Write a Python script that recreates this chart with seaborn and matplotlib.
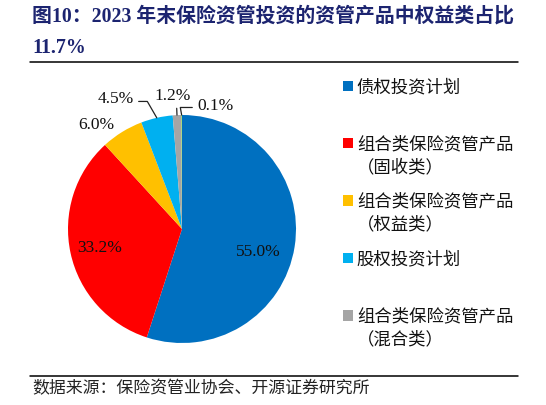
import matplotlib
matplotlib.use('Agg')
import matplotlib.pyplot as plt
import seaborn as sns
import numpy as np
from matplotlib.lines import Line2D

# data
categories = ['债权投资计划', '组合类保险资管产品', '组合类保险资管产品',
              '股权投资计划', '组合类保险资管产品', '其他']
sub_labels = ['', '（固收类）', '（权益类）', '', '（混合类）', '']
shares = [55.0, 33.2, 6.0, 4.5, 1.2, 0.1]
pct_labels = ['55.0%', '33.2%', '6.0%', '4.5%', '1.2%', '0.1%']

colors = ['#0070C0', '#FF0000', '#FFC000', '#00B0F0', '#A5A5A5', '#92D050']
# label placement in pie units (offset from centre)
label_pos = [(0.67, -0.20), (-0.72, -0.17), (-0.75, 0.91),
             (-0.58, 1.14), (-0.08, 1.17), (0.29, 1.08)]

sns.set_theme(style='white')
cjk = ['Noto Sans CJK SC', 'DejaVu Sans']
serif = ['Liberation Serif', 'Noto Sans CJK SC']
plt.rcParams['font.family'] = cjk

W, H = 546, 405
fig = plt.figure(figsize=(W / 100, H / 100), dpi=100)
fig.patch.set_facecolor('white')

cx, cy, r = 182, 229, 114
ax = fig.add_axes([(cx - r) / W, (H - cy - r) / H, 2 * r / W, 2 * r / H])
wedges, _ = ax.pie(shares, colors=sns.color_palette(colors), startangle=90,
                   counterclock=False, radius=1,
                   wedgeprops=dict(linewidth=0))
ax.set_xlim(-1, 1)
ax.set_ylim(-1, 1)
ax.set_aspect('equal')
ax.axis('off')

cum = np.cumsum([0] + shares[:-1])
for i, (txt, (lx, ly)) in enumerate(zip(pct_labels, label_pos)):
    mid = (cum[i] + shares[i] / 2) / 100 * 2 * np.pi
    px, py = np.sin(mid), np.cos(mid)
    kw = dict(fontsize=12.5, family=serif, color='#111111', ha='center', va='center')
    if i == 3:
        ax.annotate(txt, xy=(px, py), xytext=(lx, ly),
                    arrowprops=dict(arrowstyle='-', color='#222222', lw=0.9,
                                    relpos=(1.0, 0.35),
                                    connectionstyle='angle,angleA=0,angleB=120,rad=0',
                                    shrinkA=1, shrinkB=0), **kw)
    elif i == 4:
        ax.annotate(txt, xy=(px, py), xytext=(lx, ly),
                    arrowprops=dict(arrowstyle='-', color='#222222', lw=0.9,
                                    relpos=(0.6, 0.0), shrinkA=1, shrinkB=0), **kw)
    elif i == 5:
        ax.annotate(txt, xy=(px, py), xytext=(lx, ly),
                    arrowprops=dict(arrowstyle='-', color='#222222', lw=0.9,
                                    relpos=(0.0, 0.4),
                                    connectionstyle='angle,angleA=180,angleB=100,rad=0',
                                    shrinkA=1, shrinkB=0), **kw)
    else:
        ax.text(lx, ly, txt, **kw)

# legend (first five categories)
leg = fig.legend(wedges[:5], categories[:5], loc='upper left',
                 bbox_to_anchor=(343 / W, 1 - 78 / H), frameon=False,
                 fontsize=12.5, handlelength=0.55, handleheight=0.55,
                 handletextpad=0.25, labelspacing=2.27, borderpad=0,
                 borderaxespad=0)
for t in leg.get_texts():
    t.set_color('#111111')

fig.canvas.draw()
for t, sub in zip(leg.get_texts(), sub_labels[:5]):
    if not sub:
        continue
    bb = t.get_window_extent()
    fig.text(bb.x0 / W, (bb.y0 + bb.y1) / 2 / H - 23 / H, sub,
             fontsize=12.5, color='#111111', va='center', ha='left')

# title
title_color = '#1C2470'
fig.text(32 / W, 1 - 17 / H, '图10：2023 年末保险资管投资的资管产品中权益类占比',
         family=serif, fontsize=14.3, fontweight='bold', color=title_color,
         va='center', ha='left')
fig.text(32 / W, 1 - 48 / H, '11.7%', family=serif, fontsize=14.3,
         fontweight='bold', color=title_color, va='center', ha='left')

# rules
fig.add_artist(Line2D([30 / W, 518 / W], [1 - 62 / H, 1 - 62 / H],
                      color='black', lw=1.1, transform=fig.transFigure))
fig.add_artist(Line2D([30 / W, 518 / W], [1 - 376 / H, 1 - 376 / H],
                      color='black', lw=1.1, transform=fig.transFigure))

fig.text(32 / W, 1 - 388 / H, '数据来源：保险资管业协会、开源证券研究所',
         fontsize=12.2, color='#222222', va='center', ha='left')

fig.savefig('out.png', dpi=100, facecolor='white')
